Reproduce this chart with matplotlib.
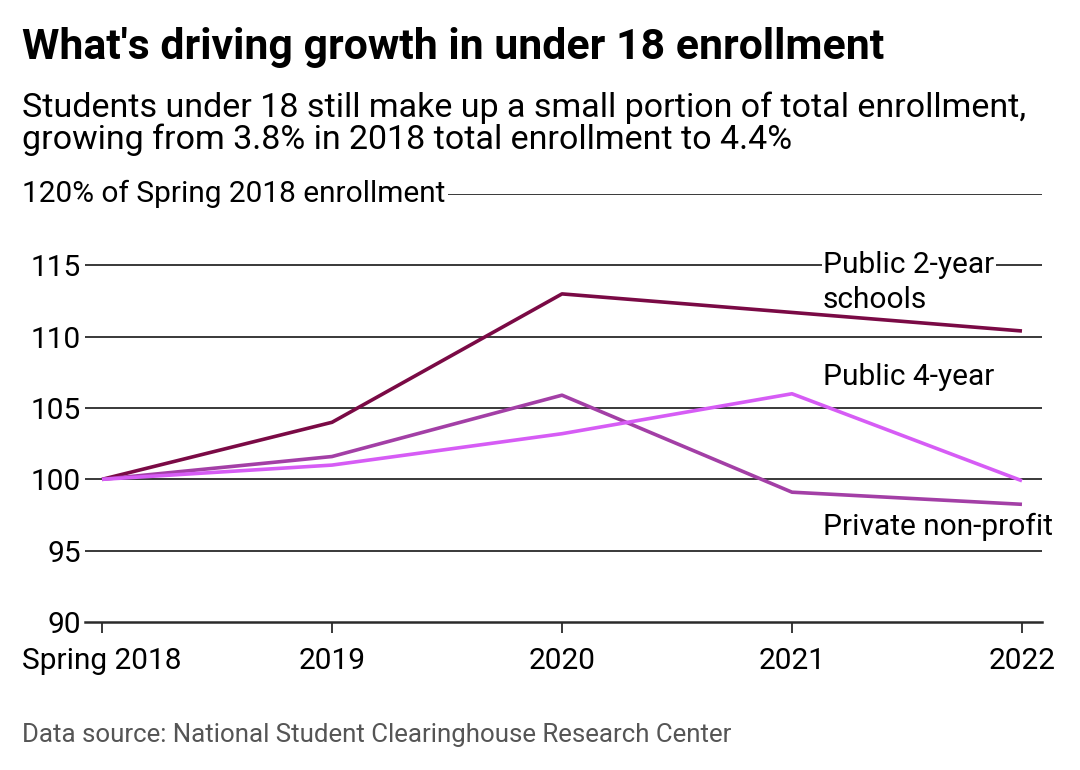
import matplotlib.pyplot as plt

plt.rcParams['font.family'] = ['Roboto', 'DejaVu Sans']

# Data (% of Spring 2018 enrollment)
years = ['Spring 2018', '2019', '2020', '2021', '2022']
public_2yr = [100, 104.0, 113.0, 111.7, 110.4]
private_np = [100, 101.6, 105.9, 99.1, 98.25]
public_4yr = [100, 101.0, 103.2, 106.0, 99.9]
yticks = [90, 95, 100, 105, 110, 115, 120]

c_2yr = '#7a0a45'
c_priv = '#a33fa6'
c_4yr = '#d65cf5'

fig = plt.figure(figsize=(10.8, 7.7), dpi=100)
ax = fig.add_axes([0.0787, 0.1922, 0.8861, 0.5558])

x = list(range(len(years)))
ax.set_xlim(-0.074, 4.087)
ax.set_ylim(90, 120)

for v in yticks[1:]:
    ax.axhline(v, color='#2a2a2a', lw=1.3, zorder=1)

ax.plot(x, public_2yr, color=c_2yr, lw=2.6, zorder=3, solid_capstyle='butt')
ax.plot(x, private_np, color=c_priv, lw=2.6, zorder=3, solid_capstyle='butt')
ax.plot(x, public_4yr, color=c_4yr, lw=2.6, zorder=3, solid_capstyle='butt')

for s in ['top', 'right', 'left']:
    ax.spines[s].set_visible(False)
ax.spines['bottom'].set_color('#2a2a2a')
ax.spines['bottom'].set_linewidth(1.8)

ax.set_yticks(yticks)
ax.set_yticklabels([str(v) for v in yticks[:-1]] + [''])
ax.tick_params(axis='y', length=0, pad=3, labelsize=21.5)
ax.set_xticks(x)
ax.set_xticklabels(years)
ax.tick_params(axis='x', length=8, width=1.3, color='#2a2a2a', pad=10, labelsize=21.5)

# top axis label sits on the 120 gridline
fig.text(22 / 1080, 1 - 194 / 770, '120% of Spring 2018 enrollment', fontsize=21.5,
         va='center', ha='left',
         bbox=dict(facecolor='white', edgecolor='none', pad=2), zorder=5)

lx = 3.135
ax.text(lx, 115, 'Public 2-year', fontsize=21.5, ha='left', va='center', zorder=5,
        bbox=dict(facecolor='white', edgecolor='none', pad=1))
ax.text(lx, 112.6, 'schools', fontsize=21.5, ha='left', va='center', zorder=5)
ax.text(lx, 107.2, 'Public 4-year', fontsize=21.5, ha='left', va='center', zorder=5)
ax.text(lx, 96.7, 'Private non-profit', fontsize=21.5, ha='left', va='center', zorder=5)

fig.text(22 / 1080, 1 - 47 / 770, "What's driving growth in under 18 enrollment",
         fontsize=30.8, fontweight='bold', ha='left', va='center')
fig.text(22 / 1080, 1 - 124 / 770,
         'Students under 18 still make up a small portion of total enrollment,\n'
         'growing from 3.8% in 2018 total enrollment to 4.4%',
         fontsize=24.5, ha='left', va='center', linespacing=0.98)
fig.text(22 / 1080, 1 - 735 / 770,
         'Data source: National Student Clearinghouse Research Center',
         fontsize=18.6, color='#555555', ha='left', va='center')

fig.savefig('out.png', dpi=100)
